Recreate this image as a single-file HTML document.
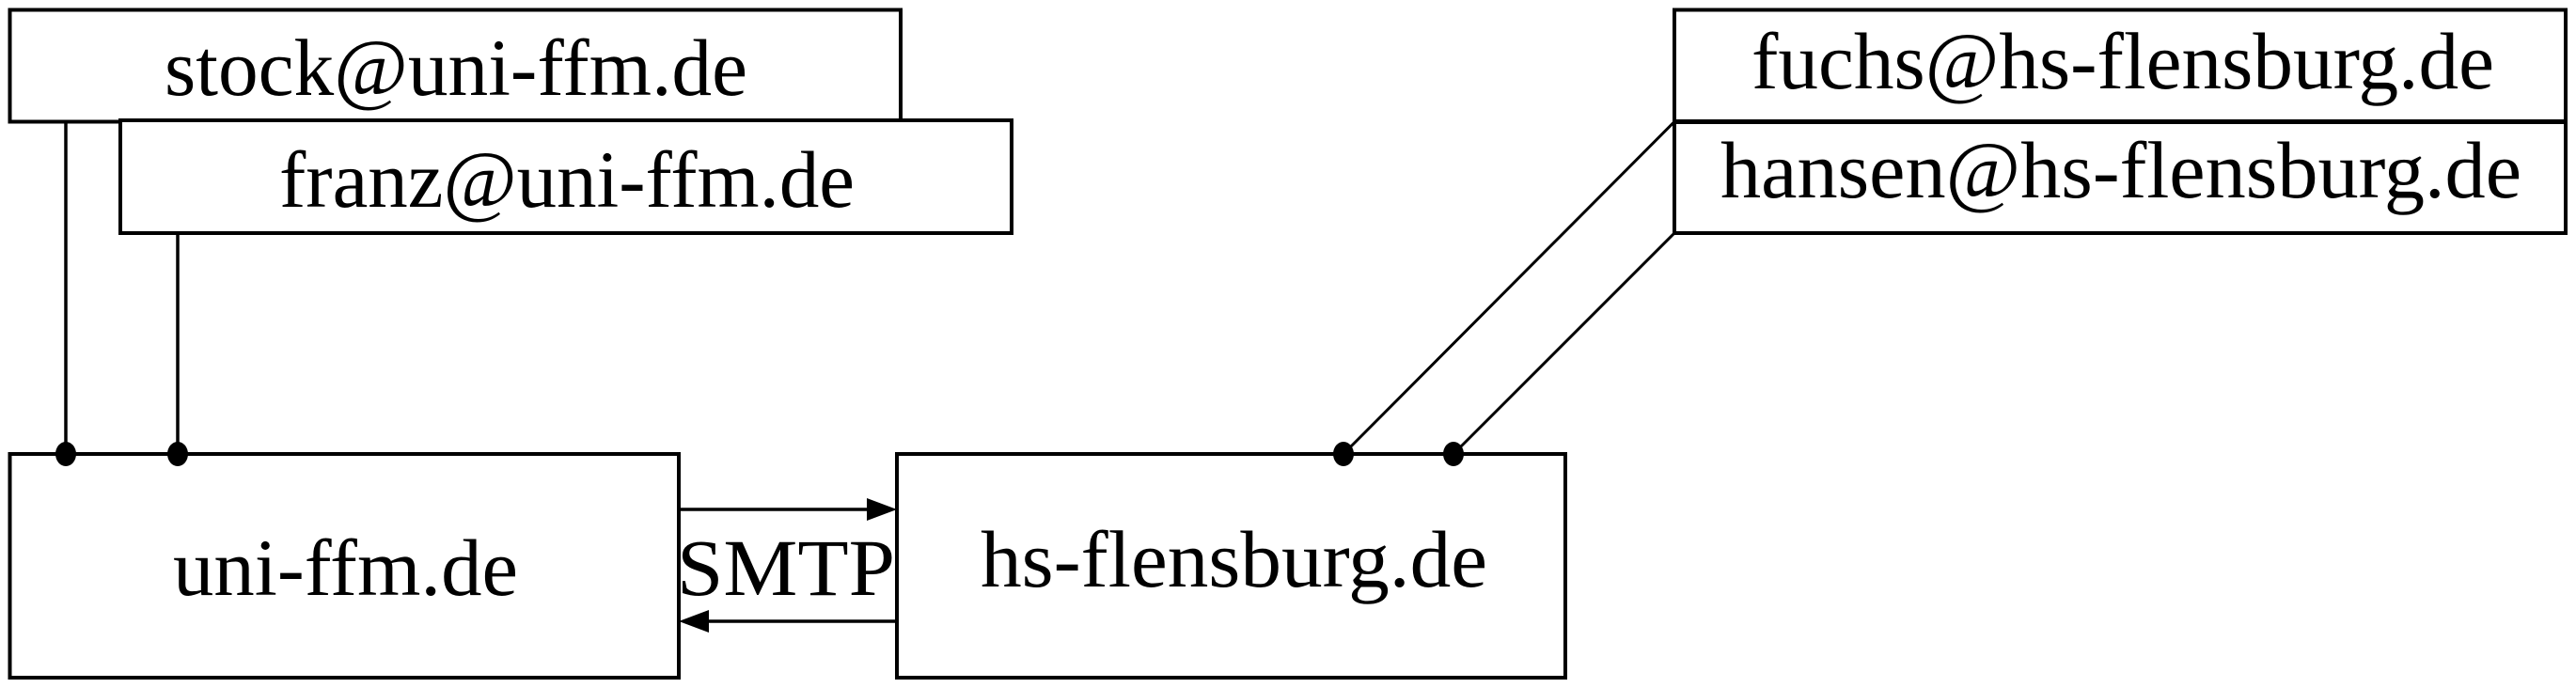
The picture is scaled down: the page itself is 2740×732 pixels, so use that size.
<!DOCTYPE html>
<html><head><style>html,body{margin:0;padding:0;background:#fff;}svg{display:block;}</style></head>
<body>
<svg width="2740" height="732" viewBox="0 0 2740 732" xmlns="http://www.w3.org/2000/svg">
<g fill="none" stroke="#000" stroke-width="4">
<rect x="10.5" y="10.5" width="947.5" height="119"/>
<rect x="128" y="128" width="948" height="120" fill="#fff"/>
<rect x="10.5" y="483" width="711.5" height="238"/>
<rect x="954" y="483" width="711" height="238"/>
<rect x="1781" y="10.5" width="948" height="119"/>
<rect x="1781" y="129.5" width="948" height="118.5"/>
<line x1="70" y1="129.5" x2="70" y2="483" stroke-width="3.5"/>
<line x1="189" y1="248" x2="189" y2="483" stroke-width="3.5"/>
<line x1="1781" y1="129.5" x2="1429" y2="483" stroke-width="3"/>
<line x1="1781" y1="248" x2="1546" y2="483" stroke-width="3"/>
<line x1="722" y1="542" x2="930" y2="542" stroke-width="3.5"/>
<line x1="954" y1="661" x2="746" y2="661" stroke-width="3.5"/>
</g>
<rect x="1781" y="127" width="948" height="5" fill="#000"/>
<polygon points="954,542 922,530 922,554" fill="#000"/>
<polygon points="722,661 754,649 754,673" fill="#000"/>
<g fill="#000">
<ellipse cx="70" cy="483" rx="11" ry="13"/>
<ellipse cx="189" cy="483" rx="11" ry="13"/>
<ellipse cx="1429" cy="483" rx="11" ry="13"/>
<ellipse cx="1546" cy="483" rx="11" ry="13"/>
</g>
<g font-family="'Liberation Serif', serif" font-size="86" fill="#000">
<text x="175" y="101" textLength="620" lengthAdjust="spacingAndGlyphs">stock@uni-ffm.de</text>
<text x="297" y="220" textLength="612" lengthAdjust="spacingAndGlyphs">franz@uni-ffm.de</text>
<text x="1863" y="94" textLength="790" lengthAdjust="spacingAndGlyphs">fuchs@hs-flensburg.de</text>
<text x="1830" y="210" textLength="852" lengthAdjust="spacingAndGlyphs">hansen@hs-flensburg.de</text>
<text x="184" y="633" textLength="367" lengthAdjust="spacingAndGlyphs">uni-ffm.de</text>
<text x="1043" y="624" textLength="539" lengthAdjust="spacingAndGlyphs">hs-flensburg.de</text>
<text x="720" y="633" textLength="232" lengthAdjust="spacingAndGlyphs">SMTP</text>
</g>
</svg>
</body></html>
